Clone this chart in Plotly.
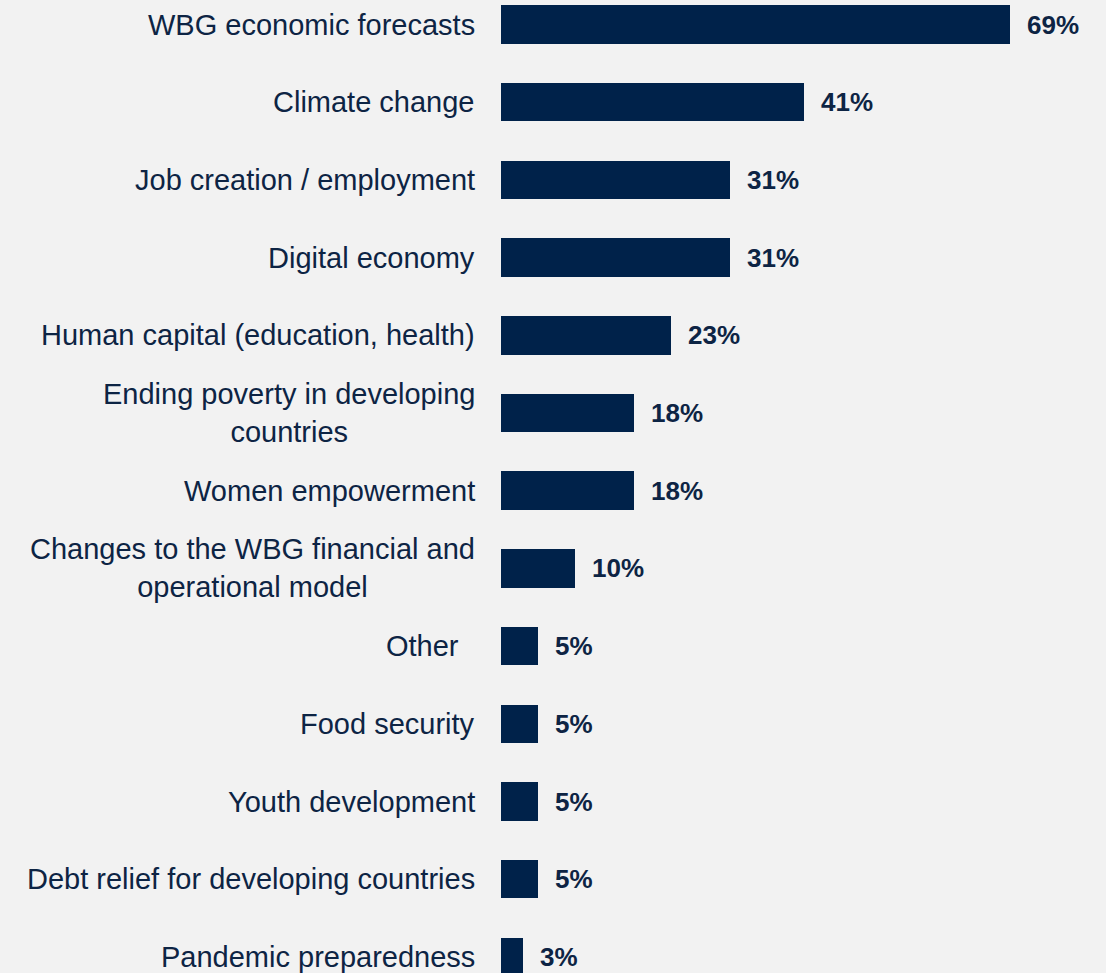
import plotly.graph_objects as go

categories = [
    "WBG economic forecasts",
    "Climate change",
    "Job creation / employment",
    "Digital economy",
    "Human capital (education, health)",
    "Ending poverty in developing<br>countries",
    "Women empowerment",
    "Changes to the WBG financial and<br>operational model",
    "Other\u00a0\u00a0",
    "Food security",
    "Youth development",
    "Debt relief for developing countries",
    "Pandemic preparedness",
]
values = [69, 41, 31, 31, 23, 18, 18, 10, 5, 5, 5, 5, 3]
value_labels = ["69%", "41%", "31%", "31%", "23%", "18%", "18%", "10%", "5%", "5%", "5%", "5%", "3%"]

BAR = "#00224a"
TXT = "#0d2444"
FONT = "Arial, Liberation Sans, sans-serif"

ypos = list(range(len(categories)))

fig = go.Figure(go.Bar(
    x=values, y=ypos, orientation="h",
    marker=dict(color=BAR, line=dict(width=0)),
    width=0.495, hoverinfo="skip",
))

annotations = []
for i, (c, v, t) in enumerate(zip(categories, values, value_labels)):
    annotations.append(dict(
        x=477 / 1106, xref="paper", y=i, yref="y", text=c,
        xanchor="right", yanchor="middle", align="center", showarrow=False,
        font=dict(family=FONT, size=29, color=TXT),
    ))
    annotations.append(dict(
        x=v, xref="x", y=i, yref="y", text="<b>" + t + "</b>",
        xanchor="left", yanchor="middle", xshift=15, showarrow=False,
        font=dict(family=FONT, size=26, color=TXT),
    ))

px_per = 7.38
x0 = 501
fig.update_layout(
    width=1106, height=973,
    margin=dict(l=0, r=0, t=0, b=0),
    paper_bgcolor="#f2f2f2", plot_bgcolor="#f2f2f2",
    showlegend=False,
    xaxis=dict(range=[-x0 / px_per, (1106 - x0) / px_per], visible=False, fixedrange=True),
    yaxis=dict(range=[(973 - 24.5) / 77.7, -24.5 / 77.7], visible=False, fixedrange=True),
    annotations=annotations,
    bargap=0,
)

fig.write_html(
    "out.html",
    config={"displayModeBar": False},
    post_script="document.body.style.margin='0';document.body.style.overflow='hidden';document.body.style.background='#f2f2f2';",
)
